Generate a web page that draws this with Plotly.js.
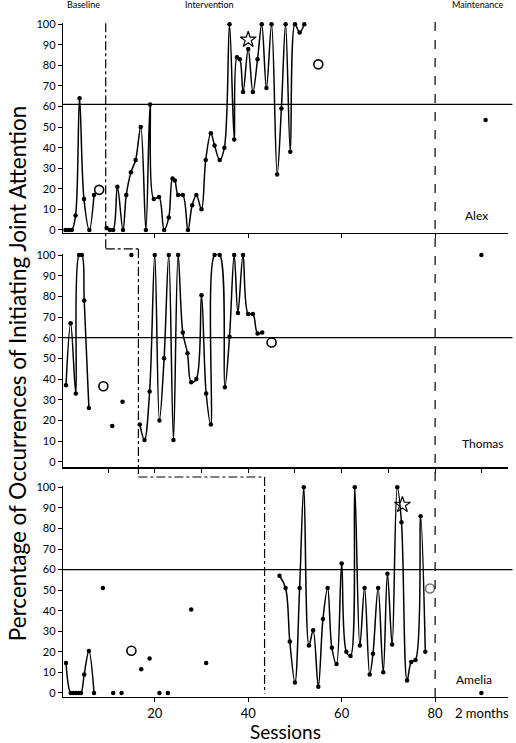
<!DOCTYPE html>
<html><head><meta charset="utf-8">
<script src="https://cdn.plot.ly/plotly-3.0.1.min.js"></script>
<style>html,body{margin:0;padding:0;background:#fff}#chart{width:516px;height:743px}</style>
</head><body><div id="chart"></div>
<script>
// ---------- DATA ----------
// Alex
const alexBaseX = [0.9, 1.55, 2.25, 3.05, 3.9, 4.85, 6, 7];
const alexBaseY = [0, 0, 0, 7, 64, 15, 0, 17];
const alexIntX = [9.7,10.4,11.1,12,13.2,13.9,14.9,15.9,17,18.1,19,19.8,20.9,22,23,23.8,24.3,25,26,27.1,28,28.9,30,30.9,32,32.8,33.9,34.9,36,37,37.6,38.2,38.9,40,41,42,42.9,43.9,45,46.2,47.1,48,49,50,51,52];
const alexIntY = [1,0,0,21,0,17,28,34,50,0,61,15,16,0,6,25,24,17,17,0,12,17,10,34,47,41,34,40,100,44,84,83,67,88,67,83,100,69,100,27,59,100,38,100,96,100];
const alexProbeX = [8.1, 55];
const alexProbeY = [19.5, 80.5];
const alexStarX = [40];
const alexStarY = [92.5];
const alexMaintX = [90.8];
const alexMaintY = [53.4];
const alexCriterion = 61;

// Thomas
const thomasBaseX = [1, 2, 3.1, 3.8, 4.4, 4.9, 5.9];
const thomasBaseY = [37, 67, 33, 100, 100, 78, 26];
const thomasDotX = [10.9, 13.1, 15];
const thomasDotY = [17.3, 29, 100];
const thomasIntX = [16.8,17.8,18.9,20,21,22,23,24,25,26,27,27.8,28.9,30,31,32,32.8,33.9,35,36,37,37.8,38.9,40,41,42,43];
const thomasIntY = [18,10.5,34,100,20,50,100,10.5,100,62.5,52.5,38.5,40,80.5,33,18,100,100,36,60.5,100,72,100,71.5,71.5,62,62.5];
const thomasProbeX = [9, 45];
const thomasProbeY = [36.5, 57.7];
const thomasStarX = [33.4];
const thomasStarY = [105.5];
const thomasMaintX = [89.9];
const thomasMaintY = [100];
const thomasCriterion = 60;

// Amelia
const ameliaBaseX = [1, 2, 2.55, 3.1, 3.65, 4.2, 4.9, 5.9, 7];
const ameliaBaseY = [14.6, 0, 0, 0, 0, 0, 9, 20.4, 0];
const ameliaDotX = [8.9, 11.1, 12.9, 17.1, 18.9, 21, 22.8, 27.8, 31];
const ameliaDotY = [51, 0, 0, 11.5, 16.7, 0, 0, 40.6, 14.6];
const ameliaIntX = [46.7,48,48.9,50,51,51.9,53,53.9,55,56,57,57.9,58.9,60,61,61.9,62.8,63.9,64.9,66,66.7,67.8,68.9,69.8,70.8,71.9,72.8,74,74.9,75.8,76.9,77.9];
const ameliaIntY = [57,51,25,5,51,100,23,30.5,3,36,51,22,14,63,20,18,100,23,51,9,19,51,10,58,23.5,100,83,6,15,16,86,20];
const ameliaProbeX = [15, 78.9];
const ameliaProbeY = [20.5, 50.8];
const ameliaStarX = [73];
const ameliaStarY = [91.5];
const ameliaMaintX = [89.9];
const ameliaMaintY = [0];
const ameliaCriterion = 60;

// Phase changes
const phaseChangeX = [9.5, 16.5, 43.5];
const maintenanceStartX = 80;
const bottomTicks = [20, 40, 60, 80];
const maintLabel = '2 months';
const names = ['Alex', 'Thomas', 'Amelia'];

// ---------- BUILD ----------
const FONT = 'Lato, "Open Sans", sans-serif';
const traces = [];
function lineTrace(x, y, ax) {
  return {x, y, xaxis: 'x' + ax, yaxis: 'y' + ax, type: 'scatter', mode: 'lines+markers',
    line: {color: '#000', width: 1.5, shape: 'spline', smoothing: 1},
    marker: {color: '#000', size: 4.5}, hoverinfo: 'none', cliponaxis: false};
}
function dotTrace(x, y, ax) {
  return {x, y, xaxis: 'x' + ax, yaxis: 'y' + ax, type: 'scatter', mode: 'markers',
    marker: {color: '#000', size: 4.5}, hoverinfo: 'none', cliponaxis: false};
}
function probeTrace(x, y, ax, edge) {
  return {x, y, xaxis: 'x' + ax, yaxis: 'y' + ax, type: 'scatter', mode: 'markers',
    marker: {symbol: 'circle-open', color: edge || '#000', size: 9, line: {width: 1.6, color: edge || '#000'}},
    hoverinfo: 'none', cliponaxis: false};
}
function starTrace(x, y, ax) {
  return {x, y, xaxis: 'x' + ax, yaxis: 'y' + ax, type: 'scatter', mode: 'markers',
    marker: {symbol: 'star-open', color: '#000', size: 12, line: {width: 1.2, color: '#000'}},
    hoverinfo: 'none', cliponaxis: false};
}
// Alex (axis '')
traces.push(lineTrace(alexBaseX, alexBaseY, ''));
traces.push(lineTrace(alexIntX, alexIntY, ''));
traces.push(probeTrace(alexProbeX, alexProbeY, ''));
traces.push(starTrace(alexStarX, alexStarY, ''));
traces.push(dotTrace(alexMaintX, alexMaintY, ''));
// Thomas
traces.push(lineTrace(thomasBaseX, thomasBaseY, '2'));
traces.push(dotTrace(thomasDotX, thomasDotY, '2'));
traces.push(lineTrace(thomasIntX, thomasIntY, '2'));
traces.push(probeTrace(thomasProbeX, thomasProbeY, '2'));
traces.push(starTrace(thomasStarX, thomasStarY, '2'));
traces.push(dotTrace(thomasMaintX, thomasMaintY, '2'));
// Amelia
traces.push(lineTrace(ameliaBaseX, ameliaBaseY, '3'));
traces.push(dotTrace(ameliaDotX, ameliaDotY, '3'));
traces.push(lineTrace(ameliaIntX, ameliaIntY, '3'));
traces.push(probeTrace([ameliaProbeX[0]], [ameliaProbeY[0]], '3'));
traces.push(probeTrace([ameliaProbeX[1]], [ameliaProbeY[1]], '3', '#777'));
traces.push(starTrace(ameliaStarX, ameliaStarY, '3'));
traces.push(dotTrace(ameliaMaintX, ameliaMaintY, '3'));

const xr = [0.36, 95.6];
const yticks = [0,10,20,30,40,50,60,70,80,90,100];
function xaxis(tickvals, showlabels, anchor) {
  return {range: xr, anchor, showgrid: false, zeroline: false, showline: true, linecolor: '#000', linewidth: 1.2,
    ticks: 'outside', ticklen: 4, tickcolor: '#000', tickvals, showticklabels: showlabels,
    tickfont: {family: FONT, size: 13, color: '#000'}, fixedrange: true};
}
function yaxis(range, domain, anchor) {
  return {range, domain, anchor, showgrid: false, zeroline: false, showline: true, linecolor: '#000', linewidth: 1.2,
    ticks: 'outside', ticklen: 4, tickcolor: '#000', tickvals: yticks,
    tickfont: {family: FONT, size: 11, color: '#000'}, fixedrange: true};
}

const crit = [alexCriterion, thomasCriterion, ameliaCriterion];
const shapes = [];
['', '2', '3'].forEach((a, i) => {
  shapes.push({type: 'line', xref: 'x' + a + ' domain', yref: 'y' + a, x0: 0, x1: 1.01, y0: crit[i], y1: crit[i],
    line: {color: '#000', width: 1.3}});
});
const dd = {color: '#000', width: 1.2, dash: 'dashdot'};
shapes.push({type: 'line', xref: 'x', yref: 'paper', x0: phaseChangeX[0], x1: phaseChangeX[0], y0: 0.988, y1: 0.657, line: dd});
shapes.push({type: 'line', xref: 'x', yref: 'paper', x0: phaseChangeX[0], x1: phaseChangeX[1], y0: 0.657, y1: 0.657, line: dd});
shapes.push({type: 'line', xref: 'x', yref: 'paper', x0: phaseChangeX[1], x1: phaseChangeX[1], y0: 0.657, y1: 0.3226, line: dd});
shapes.push({type: 'line', xref: 'x', yref: 'paper', x0: phaseChangeX[1], x1: phaseChangeX[2], y0: 0.3226, y1: 0.3226, line: dd});
shapes.push({type: 'line', xref: 'x', yref: 'paper', x0: phaseChangeX[2], x1: phaseChangeX[2], y0: 0.3226, y1: 0.005, line: dd});
shapes.push({type: 'line', xref: 'x', yref: 'paper', x0: maintenanceStartX, x1: maintenanceStartX, y0: 0, y1: 0.997,
  line: {color: '#000', width: 1.2, dash: 'dash'}});

const A = {showarrow: false, xanchor: 'center', yanchor: 'middle'};
const annotations = [
  Object.assign({text: 'Baseline', xref: 'paper', yref: 'paper', x: 0.045, y: 1.0147, font: {family: FONT, size: 9, color: '#000'}}, A),
  Object.assign({text: 'Intervention', xref: 'paper', yref: 'paper', x: 0.330, y: 1.0147, font: {family: FONT, size: 9, color: '#000'}}, A),
  Object.assign({text: 'Maintenance', xref: 'paper', yref: 'paper', x: 0.933, y: 1.0147, font: {family: FONT, size: 9, color: '#000'}}, A),
  Object.assign({text: names[0], xref: 'x', yref: 'y', x: 88.9, y: 6.8, font: {family: FONT, size: 12, color: '#000'}}, A),
  Object.assign({text: names[1], xref: 'x2', yref: 'y2', x: 90.3, y: 9, font: {family: FONT, size: 12, color: '#000'}}, A),
  Object.assign({text: names[2], xref: 'x3', yref: 'y3', x: 88.4, y: 6.7, font: {family: FONT, size: 12, color: '#000'}}, A),
  Object.assign({text: maintLabel, xref: 'x3', yref: 'paper', x: 90, y: -0.0235, font: {family: FONT, size: 13, color: '#000'}}, A),
  Object.assign({text: 'Percentage of Occurrences of Initiating Joint Attention', xref: 'paper', yref: 'paper', x: -0.103, y: 0.4736,
    textangle: -90, font: {family: FONT, size: 22.5, color: '#000'}}, A)
];

const layout = {
  width: 516, height: 743,
  margin: {l: 63, r: 8, t: 15, b: 46},
  paper_bgcolor: '#fff', plot_bgcolor: '#fff',
  showlegend: false,
  xaxis: xaxis([20, 40, 60, 80], false, 'y'),
  yaxis: yaxis([-1.6, 100.5], [0.680, 0.988], 'x'),
  xaxis2: xaxis([10,20,30,40,50,60,70,80,90], false, 'y2'),
  yaxis2: yaxis([-2.7, 100.5], [0.3368, 0.6496], 'x2'),
  xaxis3: Object.assign(xaxis(bottomTicks, true, 'y3'), {
    title: {text: 'Sessions', font: {family: FONT, size: 19, color: '#000'}, standoff: 8}}),
  yaxis3: yaxis([-2, 100.6], [0, 0.3092], 'x3'),
  shapes, annotations
};
Plotly.newPlot('chart', traces, layout, {staticPlot: true, displayModeBar: false});
</script></body></html>
